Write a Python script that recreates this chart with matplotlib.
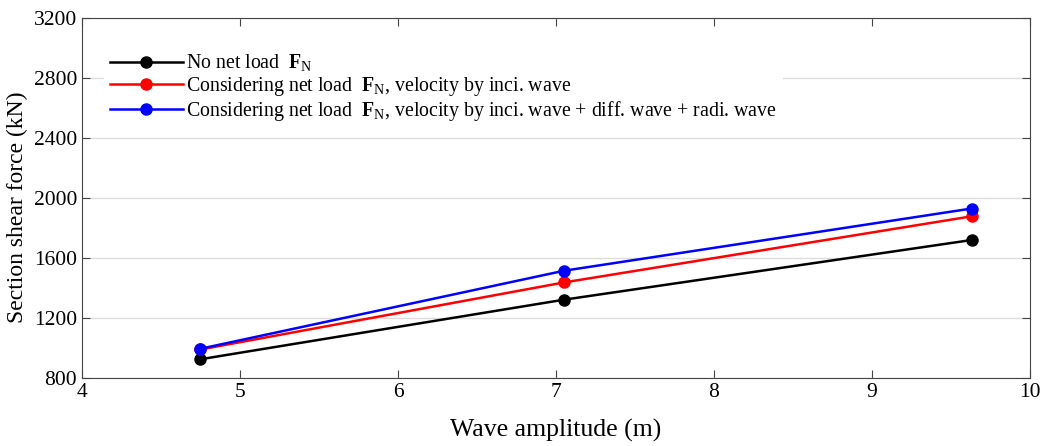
import matplotlib.pyplot as plt

plt.rcParams['font.family'] = ['Liberation Serif', 'DejaVu Serif']
plt.rcParams['mathtext.fontset'] = 'custom'
plt.rcParams['mathtext.rm'] = 'Liberation Serif'
plt.rcParams['mathtext.bf'] = 'Liberation Serif:bold'

amplitude = [4.75, 7.05, 9.63]
no_net = [925, 1322, 1720]
net_inci = [990, 1437, 1878]
net_all = [995, 1515, 1930]

labels = [
    r'No net load  $\mathbf{F}_\mathrm{N}$',
    r'Considering net load  $\mathbf{F}_\mathrm{N}$, velocity by inci. wave',
    r'Considering net load  $\mathbf{F}_\mathrm{N}$, velocity by inci. wave + diff. wave + radi. wave',
]
colors = ['black', 'red', 'blue']

fig = plt.figure(figsize=(10.43, 4.46), dpi=100)
ax = fig.add_axes([0.0786, 0.1525, 0.909, 0.807])

for ys, c, lab in zip([no_net, net_inci, net_all], colors, labels):
    ax.plot(amplitude, ys, color=c, lw=1.8, marker='o', ms=8, label=lab)

ax.set_xlim(4, 10)
ax.set_ylim(800, 3200)
ax.set_yticks(range(800, 3201, 400))
ax.yaxis.grid(True, color='#dddddd', lw=1)
ax.set_axisbelow(True)
ax.tick_params(direction='in', top=True, right=True, labelsize=15.5, length=6, color='#444444')
for s in ax.spines.values():
    s.set_color('#444444')

ax.set_xlabel('Wave amplitude (m)', fontsize=18.5, labelpad=12)
ax.set_ylabel('Section shear force (kN)', fontsize=17)
ax.yaxis.set_label_coords(-0.057, 0.475)

leg = ax.legend(loc='upper left', bbox_to_anchor=(0.023, 0.921), fontsize=14.3,
                frameon=True, framealpha=1, edgecolor='white', handlelength=3.7,
                handletextpad=0.15, borderaxespad=0, labelspacing=0.05, borderpad=0.3)
leg.get_frame().set_linewidth(0)

fig.savefig('out.png', dpi=100)
